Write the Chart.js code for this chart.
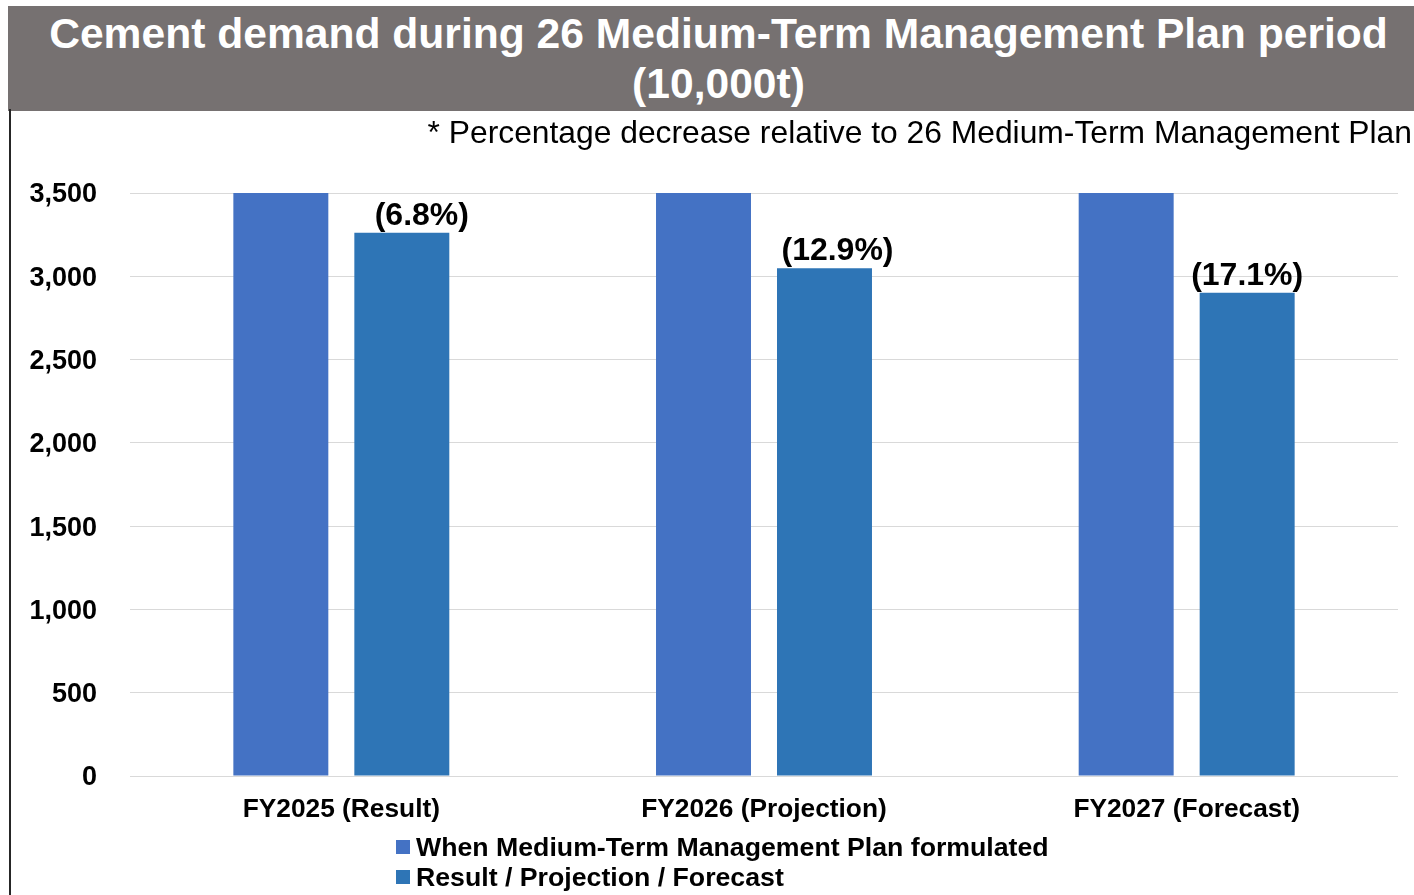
<!DOCTYPE html>
<html>
<head>
<meta charset="utf-8">
<script src="https://cdn.jsdelivr.net/npm/chart.js@4"></script>
<style>
  html, body { margin:0; padding:0; width:1414px; height:895px; overflow:hidden; background:#fff; font-family:"Liberation Sans", Arial, sans-serif; }
  #title { position:absolute; left:8px; top:6px; width:1391px; height:103px; padding-left:15px; background:#767171; color:#fff; font-weight:bold; font-size:42.6px; line-height:50px; text-align:center; padding-top:2px; box-sizing:content-box; white-space:nowrap; }
  #leftline { position:absolute; left:9px; top:109px; width:2px; height:786px; background:#262626; }
  #subtitle { position:absolute; right:2px; top:117px; font-size:31.8px; line-height:31px; color:#000; white-space:nowrap; }
  #chartwrap { position:absolute; left:0; top:0; width:1414px; height:895px; }
  #legend { position:absolute; left:396px; top:832px; font-weight:bold; font-size:26.7px; line-height:30px; color:#000; }
  .item { position:relative; height:30px; white-space:nowrap; }
  .sw { position:absolute; left:0; top:8px; width:14px; height:14px; }
  .tx { position:absolute; left:20px; top:0; }
</style>
</head>
<body>
<div id="chartwrap"><canvas id="c" width="1414" height="895"></canvas></div>
<div id="title">Cement demand during 26 Medium-Term Management Plan period<br>(10,000t)</div>
<div id="leftline"></div>
<div id="subtitle">* Percentage decrease relative to 26 Medium-Term Management Plan</div>
<div id="legend"></div>
<script>
const categories = ['FY2025 (Result)', 'FY2026 (Projection)', 'FY2027 (Forecast)'];
const seriesNames = ['When Medium-Term Management Plan formulated', 'Result / Projection / Forecast'];
const planValues = [3500, 3500, 3500];
const actualValues = [3262, 3048, 2901];
const decreaseLabels = ['(6.8%)', '(12.9%)', '(17.1%)'];
const yTicks = [0, 500, 1000, 1500, 2000, 2500, 3000, 3500];
const colors = ['#4472C4', '#2E75B6'];

const FONT = '"Liberation Sans", Arial, sans-serif';

const labelPlugin = {
  id: 'decreaseLabels',
  afterDatasetsDraw(chart, args, opts) {
    const ctx = chart.ctx;
    const meta = chart.getDatasetMeta(1);
    const nudge = opts.nudge || [];
    ctx.save();
    ctx.font = 'bold 32px ' + FONT;
    ctx.fillStyle = '#000';
    ctx.textAlign = 'center';
    ctx.textBaseline = 'alphabetic';
    meta.data.forEach((bar, i) => {
      ctx.fillText(decreaseLabels[i], bar.x + (nudge[i] || 0), bar.y - 8);
    });
    ctx.restore();
  }
};

const chart = new Chart(document.getElementById('c'), {
  type: 'bar',
  data: {
    labels: categories,
    datasets: [
      { label: seriesNames[0], data: planValues, backgroundColor: colors[0], barPercentage: 0.785, categoryPercentage: 0.5725 },
      { label: seriesNames[1], data: actualValues, backgroundColor: colors[1], barPercentage: 0.785, categoryPercentage: 0.5725 }
    ]
  },
  options: {
    responsive: false,
    animation: false,
    layout: { padding: { top: 193, right: 16, left: 0, bottom: 0 } },
    plugins: { legend: { display: false }, tooltip: { enabled: false }, title: { display: false },
      decreaseLabels: { nudge: [20, 13, 0] } },
    scales: {
      x: {
        grid: { display: false },
        border: { display: false },
        ticks: { color: '#000', font: { family: FONT, size: 26.3, weight: 'bold' }, padding: 10, maxRotation: 0 },
        afterFit(scale) { scale.height = 119; }
      },
      y: {
        min: 0, max: 3500,
        afterBuildTicks(scale) { scale.ticks = yTicks.map(v => ({ value: v })); },
        grid: { color: '#d9d9d9', lineWidth: 1, drawTicks: false },
        border: { display: false },
        ticks: { color: '#000', font: { family: FONT, size: 27, weight: 'bold' }, padding: 33, labelOffset: 2,
          callback: v => v.toLocaleString('en-US') },
        afterFit(scale) { scale.width = 130; }
      }
    }
  },
  plugins: [labelPlugin]
});

const leg = document.getElementById('legend');
chart.data.datasets.forEach(ds => {
  const it = document.createElement('div'); it.className = 'item';
  const sw = document.createElement('div'); sw.className = 'sw'; sw.style.background = ds.backgroundColor;
  const tx = document.createElement('div'); tx.className = 'tx'; tx.textContent = ds.label;
  it.appendChild(sw); it.appendChild(tx); leg.appendChild(it);
});
</script>
</body>
</html>
